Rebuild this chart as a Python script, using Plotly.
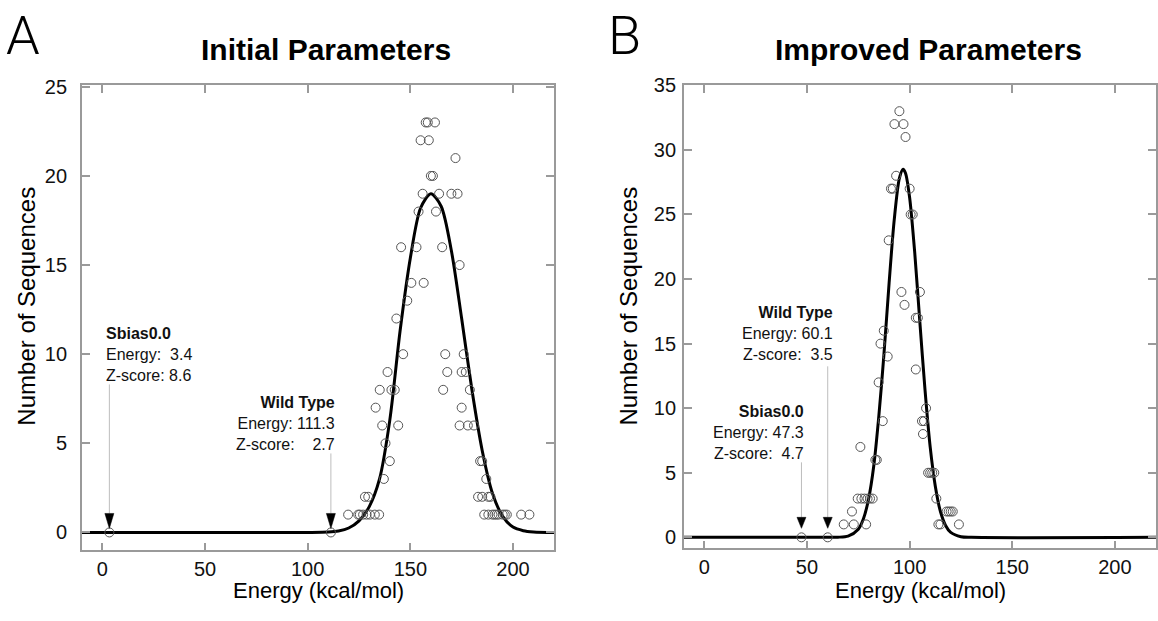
import plotly.graph_objects as go

# ---------------- data ----------------
# Panel A: Initial Parameters (energy, number of sequences)
a_energy = [3.4, 111.3, 119.7, 124.6, 125.4, 127.0, 128.7, 130.3, 132.7, 134.8, 127.9, 129.5,
            137.1, 140.0, 137.9, 136.3, 144.1, 133.1, 135.1, 140.8, 142.4, 138.9, 146.5, 143.2,
            145.5, 148.5, 150.5, 154.0, 155.0, 157.5, 158.5, 162.0, 159.0, 160.0, 161.0, 156.0,
            153.0, 156.5, 162.5, 164.0, 165.5, 167.0, 168.0, 166.0, 172.0, 170.0, 173.0, 174.0,
            176.0, 175.0, 177.0, 175.0, 174.0, 178.0, 179.0, 181.0, 184.0, 185.0, 183.0, 185.0,
            187.0, 188.0, 189.0, 186.0, 188.0, 190.0, 191.0, 192.0, 193.0, 195.0, 196.0, 197.0,
            204.0, 208.0]
a_count = [0, 0, 1, 1, 1, 1, 1, 1, 1, 1, 2, 2,
           3, 4, 5, 6, 6, 7, 8, 8, 8, 9, 10, 12,
           16, 13, 14, 18, 22, 23, 23, 23, 22, 20, 20, 19,
           16, 14, 18, 19, 16, 10, 9, 8, 21, 19, 19, 15,
           10, 9, 9, 7, 6, 6, 8, 6, 4, 4, 2, 2,
           3, 2, 2, 1, 1, 1, 1, 1, 1, 1, 1, 1,
           1, 1]
# fitted distribution curve
a_fit_x = [-10, 100, 110, 115, 120, 125, 130, 135, 140, 145, 150, 155, 160, 165, 170, 175,
           180, 185, 190, 195, 200, 205, 210, 220]
a_fit_y = [0, 0, 0.02, 0.08, 0.25, 0.65, 1.45, 3.0, 6.3, 11.3, 15.4, 18.2, 19.0, 18.3, 15.8,
           12.0, 8.0, 4.6, 2.2, 0.9, 0.3, 0.1, 0.03, 0]

# Panel B: Improved Parameters
b_energy = [47.3, 60.1, 67.9, 72.8, 78.8, 71.9, 76.0, 74.7, 76.5, 78.0, 79.5, 80.7, 82.0,
            83.3, 84.0, 84.9, 86.9, 85.8, 87.4, 89.3, 89.8, 90.9, 91.8, 93.4, 92.6, 95.0,
            97.0, 98.0, 96.0, 97.5, 100.0, 100.5, 101.5, 103.0, 104.0, 103.0, 105.0, 106.0,
            107.0, 106.5, 108.0, 109.0, 110.0, 111.0, 112.0, 113.0, 114.0, 115.0, 118.0,
            119.0, 120.0, 121.0, 124.0]
b_count = [0, 0, 1, 1, 1, 2, 7, 3, 3, 3, 3, 3, 3,
           6, 6, 12, 9, 15, 16, 14, 23, 27, 27, 28, 32, 33,
           32, 31, 19, 18, 27, 25, 25, 17, 17, 13, 19, 9,
           9, 8, 10, 5, 5, 5, 5, 3, 1, 1, 2,
           2, 2, 2, 1]
b_fit_x = [-10, 60, 65, 70, 75, 77.5, 80, 82.5, 85, 87.5, 90, 92.5, 95, 96.8, 98, 100, 102.5,
           105, 107.5, 110, 112.5, 115, 117.5, 120, 125, 130, 220]
b_fit_y = [0, 0, 0.01, 0.09, 0.63, 1.44, 2.97, 5.5, 9.4, 14.2, 19.7, 24.6, 27.8, 28.5, 28.2,
           26.3, 22.0, 16.6, 11.4, 7.0, 3.96, 2.0, 0.92, 0.38, 0.05, 0, 0]

titles = ["Initial Parameters", "Improved Parameters"]
panel_letters = ["A", "B"]
x_title = "Energy (kcal/mol)"
y_title = "Number of Sequences"
x_ticks = [0, 50, 100, 150, 200]
a_y_ticks = [0, 5, 10, 15, 20, 25]
b_y_ticks = [0, 5, 10, 15, 20, 25, 30, 35]

# callouts: (panel, energy, label, energy text, zscore text, align)
callouts = [
    ("A", 3.4, "Sbias0.0", "Energy:\u00a0\u00a03.4", "Z-score:\u00a08.6", "left"),
    ("A", 111.3, "Wild Type", "Energy:\u00a0111.3", "Z-score:\u00a0\u00a0\u00a0\u00a02.7", "right"),
    ("B", 60.1, "Wild Type", "Energy:\u00a060.1", "Z-score:\u00a0\u00a03.5", "right"),
    ("B", 47.3, "Sbias0.0", "Energy:\u00a047.3", "Z-score:\u00a0\u00a04.7", "right"),
]
# pixel layout of callouts (text bottom above point, line top, arrow tip, arrow base, x shift)
callout_px = [
    dict(text_up=146, line_top=148, tip=4, base=19, xshift=-5),
    dict(text_up=77, line_top=79, tip=4, base=19, xshift=6),
    dict(text_up=172, line_top=171, tip=9, base=20, xshift=7),
    dict(text_up=73, line_top=75, tip=9, base=20, xshift=5),
]

# ---------------- figure ----------------
W, H = 1158, 621
FONT = "Liberation Sans, Arial, sans-serif"
FRAME = "#9a9a9a"

fig = go.Figure()


def px_x(p):
    return p / W


def px_y(p):
    return (H - p) / H


panels = {
    "A": dict(xa="x", ya="y", dom_x=(82, 555), dom_y=(75.7, 549), yr=[-1.0, 25.08], yt=a_y_ticks,
              ex=a_energy, cy=a_count, fx=a_fit_x, fy=a_fit_y, standoff=9),
    "B": dict(xa="x2", ya="y2", dom_x=(685, 1158), dom_y=(75.7, 547), yr=[-0.85, 35.0], yt=b_y_ticks,
              ex=b_energy, cy=b_count, fx=b_fit_x, fy=b_fit_y, standoff=2),
}

for key, p in panels.items():
    fig.add_trace(go.Scatter(x=p["fx"], y=p["fy"], mode="lines", xaxis=p["xa"], yaxis=p["ya"],
                             line=dict(color="black", width=3, shape="spline", smoothing=0.8),
                             hoverinfo="skip", showlegend=False))
    fig.add_trace(go.Scatter(x=p["ex"], y=p["cy"], mode="markers", xaxis=p["xa"], yaxis=p["ya"],
                             marker=dict(symbol="circle-open", size=9,
                                         color="#555555", line=dict(width=1)),
                             showlegend=False))

axis_common = dict(showline=True, linecolor=FRAME, linewidth=1.5, mirror="ticks",
                   ticks="inside", ticklen=8, tickwidth=1.5, tickcolor=FRAME,
                   showgrid=False, zeroline=False,
                   tickfont=dict(family=FONT, size=20, color="#111111"))

layout_axes = {}
for i, (key, p) in enumerate(panels.items()):
    sx = "" if i == 0 else str(i + 1)
    layout_axes["xaxis" + sx] = dict(axis_common, range=[-10, 220], tickvals=x_ticks,
                                     domain=[px_x(p["dom_x"][0]), px_x(p["dom_x"][1])],
                                     anchor="y" + sx)
    layout_axes["yaxis" + sx] = dict(axis_common, range=p["yr"], tickvals=p["yt"],
                                     ticklabelstandoff=p["standoff"],
                                     domain=[px_y(p["dom_y"][1]), px_y(p["dom_y"][0])],
                                     anchor="x" + sx)

annotations = []
shapes = []
offset = [0, 603]
for i, key in enumerate(["A", "B"]):
    dx = offset[i]
    annotations.append(dict(text=panel_letters[i], xref="paper", yref="paper",
                            x=px_x(23 + dx), y=px_y(25), showarrow=False,
                            xanchor="center", yanchor="middle",
                            font=dict(family="Roboto, Liberation Sans, Arial, sans-serif",
                                      size=54, color="black", weight=300)))
    annotations.append(dict(text="<b>" + titles[i] + "</b>", xref="paper", yref="paper",
                            x=px_x(327 + dx), y=px_y(39), showarrow=False,
                            xanchor="center", yanchor="middle",
                            font=dict(family=FONT, size=30, color="black")))
    annotations.append(dict(text=x_title, xref="paper", yref="paper",
                            x=px_x(319 + dx), y=px_y(590), showarrow=False,
                            xanchor="center", yanchor="middle",
                            font=dict(family=FONT, size=22, color="black")))
    annotations.append(dict(text=y_title, xref="paper", yref="paper", textangle=-90,
                            x=px_x(27 + dx), y=px_y(300), showarrow=False,
                            xanchor="center", yanchor="middle",
                            font=dict(family=FONT, size=24, color="black")))

for (panel, e, lab, etxt, ztxt, align), cp in zip(callouts, callout_px):
    p = panels[panel]
    annotations.append(dict(text="<b>" + lab + "</b><br>" + etxt + "<br>" + ztxt,
                            xref=p["xa"], yref=p["ya"], x=e, y=0, showarrow=False,
                            xanchor=align, yanchor="bottom", align=align,
                            xshift=cp["xshift"], yshift=cp["text_up"],
                            font=dict(family=FONT, size=16, color="#111111")))
    shapes.append(dict(type="path", xref=p["xa"], yref=p["ya"], xsizemode="pixel",
                       ysizemode="pixel", xanchor=e, yanchor=0,
                       path="M0,%d L0,%d" % (cp["base"], cp["line_top"]),
                       line=dict(color="#bdbdbd", width=1)))
    shapes.append(dict(type="path", xref=p["xa"], yref=p["ya"], xsizemode="pixel",
                       ysizemode="pixel", xanchor=e, yanchor=0,
                       path="M-4.5,%d L4.5,%d L0,%d Z" % (cp["base"], cp["base"], cp["tip"]),
                       fillcolor="black", line=dict(color="black", width=0.5)))

fig.update_layout(width=W, height=H, autosize=False,
                  margin=dict(l=0, r=0, t=0, b=0, pad=0),
                  paper_bgcolor="white", plot_bgcolor="white",
                  annotations=annotations, shapes=shapes, showlegend=False,
                  **layout_axes)

fig.write_html("out.html")
